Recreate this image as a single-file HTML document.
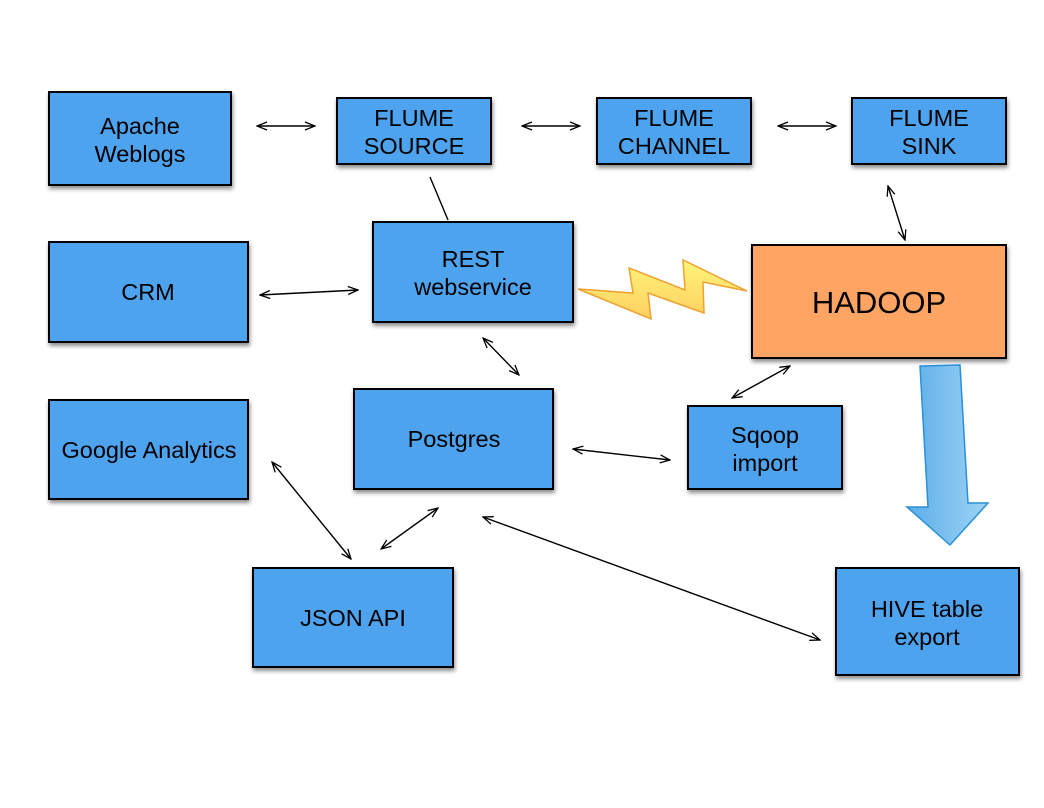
<!DOCTYPE html>
<html><head><meta charset="utf-8"><style>
html,body{margin:0;padding:0;background:#fff;}
svg{display:block;font-family:"Liberation Sans",Arial,sans-serif;}
</style></head><body>
<svg width="1044" height="808" viewBox="0 0 1044 808" xmlns="http://www.w3.org/2000/svg">
<defs>
<filter id="sh" x="-10%" y="-10%" width="130%" height="140%"><feDropShadow dx="1" dy="3" stdDeviation="2" flood-color="#000" flood-opacity="0.45"/></filter>
<marker id="ah" markerWidth="12" markerHeight="10" refX="11" refY="5" orient="auto-start-reverse" markerUnits="userSpaceOnUse"><path d="M1,1 L11,5 L1,9" fill="none" stroke="#000" stroke-width="1.3"/></marker>
<linearGradient id="bolt" x1="0" y1="0" x2="0" y2="1"><stop offset="0" stop-color="#fff57a"/><stop offset="1" stop-color="#ffcf60"/></linearGradient>
<linearGradient id="barrow" x1="0" y1="0" x2="1" y2="0"><stop offset="0" stop-color="#5aaee8"/><stop offset="1" stop-color="#9fd3f5"/></linearGradient>
</defs>
<g fill="#4DA3EE" stroke="#000" stroke-width="2" filter="url(#sh)">
<rect x="49" y="92" width="182" height="93"/>
<rect x="337" y="98" width="154" height="66"/>
<rect x="597" y="98" width="154" height="66"/>
<rect x="852" y="98" width="154" height="66"/>
<rect x="49" y="242" width="199" height="100"/>
<rect x="373" y="222" width="200" height="100"/>
<rect x="752" y="245" width="254" height="113" fill="#FFA463"/>
<rect x="49" y="400" width="199" height="99"/>
<rect x="354" y="389" width="199" height="100"/>
<rect x="688" y="406" width="154" height="83"/>
<rect x="253" y="568" width="200" height="99"/>
<rect x="836" y="568" width="183" height="107"/>
</g>
<g font-size="23.5" fill="#000" text-anchor="middle">
<text x="140" y="134">Apache</text><text x="140" y="162">Weblogs</text>
<text x="414" y="126">FLUME</text><text x="414" y="154">SOURCE</text>
<text x="674" y="126">FLUME</text><text x="674" y="154">CHANNEL</text>
<text x="929" y="126">FLUME</text><text x="929" y="154">SINK</text>
<text x="148" y="300">CRM</text>
<text x="473" y="267">REST</text><text x="473" y="295">webservice</text>
<text x="879" y="313" font-size="31">HADOOP</text>
<text x="149" y="458">Google Analytics</text>
<text x="454" y="447">Postgres</text>
<text x="765" y="443">Sqoop</text><text x="765" y="471">import</text>
<text x="353" y="626">JSON API</text>
<text x="927" y="617">HIVE table</text><text x="927" y="645">export</text>
</g>
<g stroke="#000" stroke-width="1.4" fill="none" marker-start="url(#ah)" marker-end="url(#ah)">
<line x1="257" y1="126" x2="315" y2="126"/>
<line x1="522" y1="126" x2="580" y2="126"/>
<line x1="778" y1="126" x2="836" y2="126"/>
<line x1="888" y1="186" x2="905" y2="240"/>
<line x1="260" y1="295" x2="358" y2="290"/>
<line x1="483" y1="338" x2="519" y2="375"/>
<line x1="790" y1="366" x2="732" y2="398"/>
<line x1="573" y1="449" x2="670" y2="460"/>
<line x1="272" y1="462" x2="351" y2="559"/>
<line x1="438" y1="508" x2="381" y2="549"/>
<line x1="483" y1="517" x2="820" y2="640"/>
</g>
<line x1="430" y1="177" x2="448" y2="220" stroke="#000" stroke-width="1.4"/>
<polygon points="578,289 633,293 629,268 685,290 683,260 747,291 703,282 704,313 648,293 651,319" fill="url(#bolt)" stroke="#f0a030" stroke-width="1.5"/>
<polygon points="920,366 960,365 968,503 988,503 950,545 907,507 928,507" fill="url(#barrow)" stroke="#2a90d8" stroke-width="1.5"/>
</svg>
</body></html>
